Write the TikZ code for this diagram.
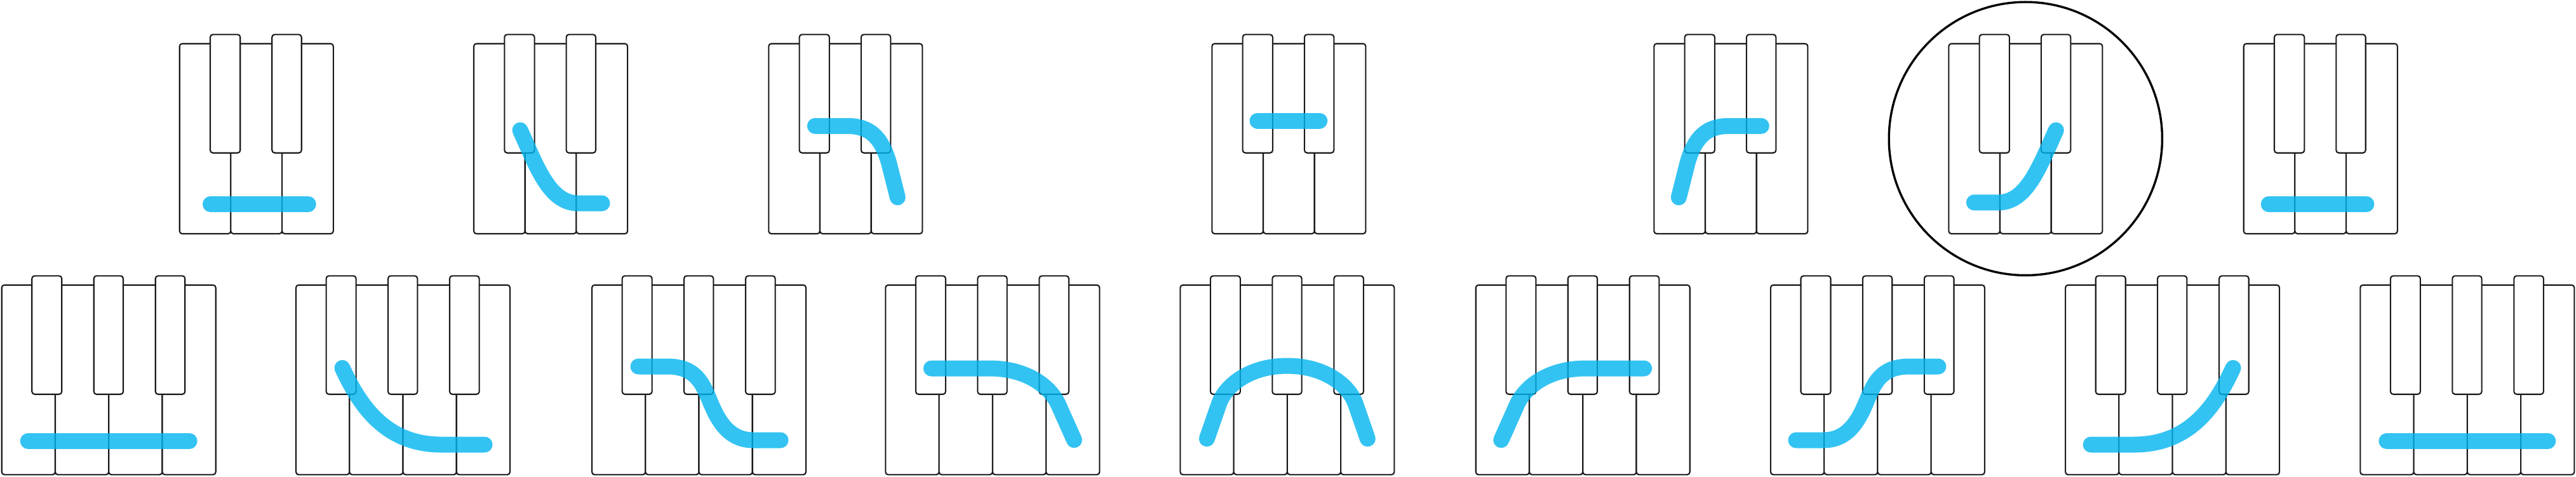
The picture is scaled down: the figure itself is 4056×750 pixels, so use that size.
\documentclass[tikz,border=0pt]{standalone}
\definecolor{sky}{HTML}{00B5EF}
\definecolor{keyline}{HTML}{1A1A1A}
\tikzset{
  keyshape/.style={draw=keyline, line width=0.6pt, rounded corners=1.2pt, fill=white},
  fingering/.style={draw=sky, draw opacity=0.8, line width=0.25cm, line cap=round, line join=round},
  ring/.style={draw=black, line width=0.034cm},
  pics/threekeys/.style={code={
     \foreach \i in {0,1,2} \path[keyshape] ({80.7*\i+1},15.4) rectangle ++(80.7,299.3);
     \path[keyshape] (49.3,1) rectangle (96.6,187.4);
     \path[keyshape] (146.6,1) rectangle (193,187.4);
  }},
  pics/fourkeys/.style={code={
     \foreach \i in {0,1,2,3} \path[keyshape] ({84.25*\i+1},15.4) rectangle ++(84.25,298.6);
     \path[keyshape] (48.6,1) rectangle (95.6,187.4);
     \path[keyshape] (146,1) rectangle (192.3,187.4);
     \path[keyshape] (243,1) rectangle (289.6,187.4);
  }},
  mirrortop/.style={shift={(244,0)}, xscale=-1},
  mirrorbot/.style={shift={(339,0)}, xscale=-1},
}
\begin{document}
\begin{tikzpicture}[x=0.01cm, y=-0.01cm]
\useasboundingbox (0,0) rectangle (4056,750);

% ---------- top row ----------
\begin{scope}[shift={(281.7,53.3)}]
  \pic {threekeys};
  \draw[fingering] (49.8,268) -- (203.5,268);
\end{scope}

\begin{scope}[shift={(745,53.3)}]
  \pic {threekeys};
  \draw[fingering] (74,151.7) .. controls (100,208.7) and (120,266.7) .. (165,266.7) -- (203,266.7);
\end{scope}

\begin{scope}[shift={(1209.3,53.3)}]
  \pic {threekeys};
  \draw[fingering] (74,145) -- (124,145) .. controls (160,145) and (178,162) .. (190,202) -- (204,257.4);
\end{scope}

\begin{scope}[shift={(1907.3,53.3)}]
  \pic {threekeys};
  \draw[fingering] (72.7,136.7) -- (170.4,136.7);
\end{scope}

\begin{scope}[shift={(2603.3,53.3)}]
  \pic {threekeys};
  \begin{scope}[mirrortop]
    \draw[fingering] (74,145) -- (124,145) .. controls (160,145) and (178,162) .. (190,202) -- (204,257.4);
  \end{scope}
\end{scope}

\begin{scope}[shift={(3067.3,53.3)}]
  \pic {threekeys};
  \begin{scope}[mirrortop]
    \draw[fingering] (74,151.7) .. controls (100,208.7) and (120,265.5) .. (165,265.5) -- (203,265.5);
  \end{scope}
\end{scope}
\draw[ring] (3189.3,218.3) circle[radius=2.15cm];

\begin{scope}[shift={(3531.7,53.3)}]
  \pic {threekeys};
  \begin{scope}[mirrortop]
    \draw[fingering] (49.8,268) -- (203.5,268);
  \end{scope}
\end{scope}

% ---------- bottom row ----------
\begin{scope}[shift={(1.7,433.3)}]
  \pic {fourkeys};
  \draw[fingering] (42.5,261) -- (296.5,261);
\end{scope}

\begin{scope}[shift={(465,433.3)}]
  \pic {fourkeys};
  \draw[fingering] (74,146) .. controls (100,202) and (140,266.7) .. (230,266.7) -- (298,266.7);
\end{scope}

\begin{scope}[shift={(931,433.3)}]
  \pic {fourkeys};
  \draw[fingering] (74,143.7) -- (120,143.7) .. controls (165,143.7) and (175,171.7) .. (185,193.7)
     .. controls (198,226.7) and (215,259.7) .. (255,259.7) -- (298,259.7);
\end{scope}

\begin{scope}[shift={(1393.3,433.3)}]
  \pic {fourkeys};
  \draw[fingering] (73,146.7) -- (165,146.7) .. controls (225,146.7) and (261,176.7) .. (273,203.4) -- (298,259.4);
\end{scope}

\begin{scope}[shift={(1857.3,433.3)}]
  \pic {fourkeys};
  \draw[fingering] (43,257.4) -- (62,202.7) .. controls (72,173.7) and (110,142.7) .. (169.5,142.7)
     .. controls (229,142.7) and (267,173.7) .. (277,202.7) -- (296,257.4);
\end{scope}

\begin{scope}[shift={(2322.7,433.3)}]
  \pic {fourkeys};
  \begin{scope}[mirrorbot]
    \draw[fingering] (73,146.7) -- (165,146.7) .. controls (225,146.7) and (261,176.7) .. (273,203.4) -- (298,259.4);
  \end{scope}
\end{scope}

\begin{scope}[shift={(2786.9,433.3)}]
  \pic {fourkeys};
  \begin{scope}[mirrorbot]
    \draw[fingering] (74,143.7) -- (120,143.7) .. controls (165,143.7) and (175,171.7) .. (185,193.7)
       .. controls (198,226.7) and (215,259.7) .. (255,259.7) -- (298,259.7);
  \end{scope}
\end{scope}

\begin{scope}[shift={(3251.1,433.3)}]
  \pic {fourkeys};
  \begin{scope}[mirrorbot]
    \draw[fingering] (74,146) .. controls (100,202) and (140,266.7) .. (230,266.7) -- (298,266.7);
  \end{scope}
\end{scope}

\begin{scope}[shift={(3715.3,433.3)}]
  \pic {fourkeys};
  \draw[fingering] (42.5,261) -- (296.5,261);
\end{scope}
\end{tikzpicture}
\end{document}
